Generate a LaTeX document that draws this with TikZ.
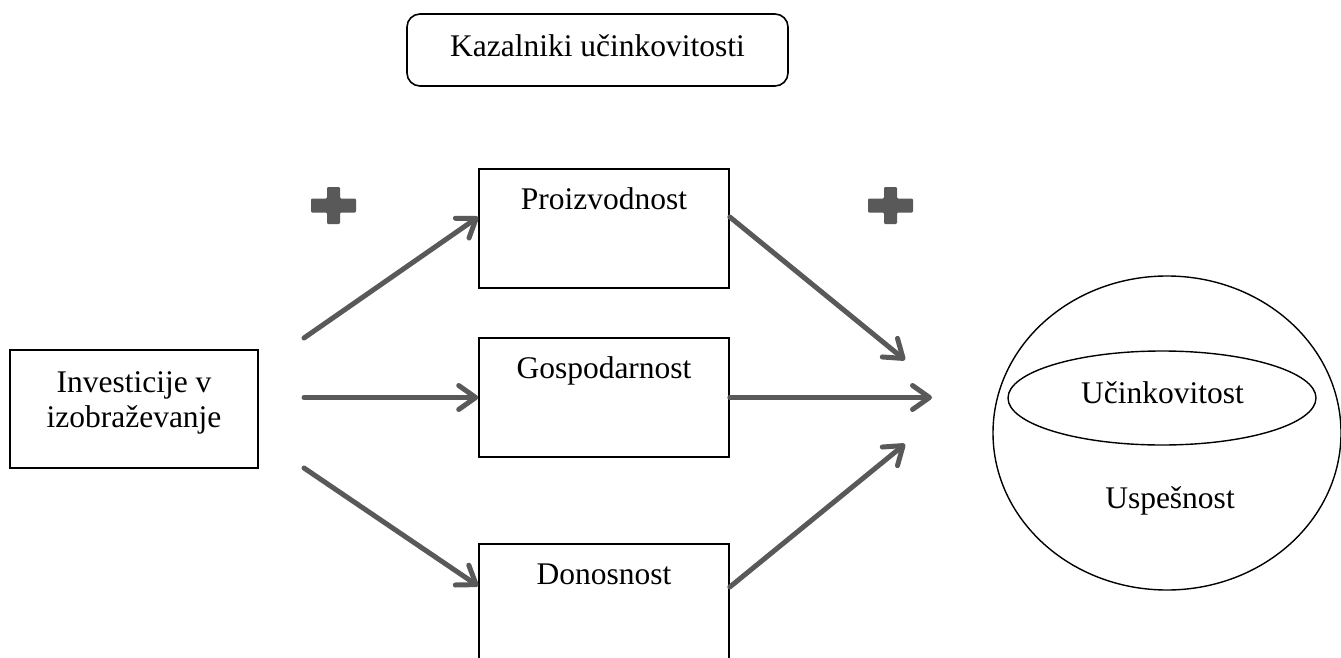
\documentclass[tikz,border=0pt]{standalone}
\usepackage{fontspec}
\setmainfont{Liberation Serif}
\usetikzlibrary{arrows.meta,shapes.geometric}
\definecolor{arrowgray}{HTML}{595959}

\tikzset{
  box/.style={draw=black, line width=1.6pt, inner sep=0pt,
    minimum width=250pt, minimum height=119pt},
  boxlabel/.style={anchor=base, yshift=-41pt},
  flow/.style={draw=arrowgray, line width=5pt, line cap=round,
    -{Straight Barb[length=17pt, width=24pt, round]}},
  ring/.style={draw=black, line width=1.4pt, ellipse, inner sep=0pt},
  plussign/.pic={
    \fill[arrowgray, rounded corners=1.2pt]
      (-22.5,-7) -- (-6.5,-7) -- (-6.5,-18.5) -- (6.5,-18.5) -- (6.5,-7)
      -- (22.5,-7) -- (22.5,7) -- (6.5,7) -- (6.5,18.5) -- (-6.5,18.5)
      -- (-6.5,7) -- (-22.5,7) -- cycle;
  }
}

\begin{document}
\begin{tikzpicture}[x=1pt, y=-1pt, font=\fontsize{31.5}{35}\selectfont]
\useasboundingbox (0,0) rectangle (1341,658);
\clip (0,0) rectangle (1341,658);

% heading
\node[draw=black, line width=1.6pt, rounded corners=13pt, inner sep=0pt,
      minimum width=381pt, minimum height=72pt] (kaz) at (597.5,50) {};
\node[anchor=base] (kazt) at (597.5,57) {Kazalniki učinkovitosti};

% source box
\node[box, minimum width=248pt, minimum height=118pt] (inv) at (134,409) {};
\node[align=center] (invt) at (134,403) {Investicije v\\izobraževanje};

% indicator boxes
\node[box] (pro) at (604,228.5) {};
\node[box] (gos) at (604,397.5) {};
\node[box] (don) at (604,603.5) {};
\node[boxlabel] (prot) at (pro.north) {Proizvodnost};
\node[boxlabel] (gost) at (gos.north) {Gospodarnost};
\node[boxlabel] (dont) at (don.north) {Donosnost};

% result
\node[ring, minimum width=348pt, minimum height=314pt] (usp) at (1167,433) {};
\node[ring, minimum width=308pt, minimum height=94pt] (uci) at (1162,398) {};
\node (ucit) at (1162.5,392.5) {Učinkovitost};
\node[anchor=base] (uspt) at (1170,508) {Uspešnost};

% plus signs
\pic at (333.5,205.5) {plussign};
\pic at (890.5,205.5) {plussign};

% connector ends
\coordinate (s1) at (304,338);
\coordinate (s2) at (304,397.5);
\coordinate (s3) at (304,468);
\coordinate (t1) at (905,360);
\coordinate (t2) at (932,397.5);
\coordinate (t3) at (905,444);

\draw[flow] (s1) -- ([yshift=11.5pt]pro.west);
\draw[flow] (s2) -- (gos.west);
\draw[flow] (s3) -- ([yshift=17.5pt]don.west);
\draw[flow] ([yshift=11.5pt]pro.east) -- (t1);
\draw[flow] (gos.east) -- (t2);
\draw[flow] ([yshift=16.5pt]don.east) -- (t3);
\end{tikzpicture}
\end{document}
